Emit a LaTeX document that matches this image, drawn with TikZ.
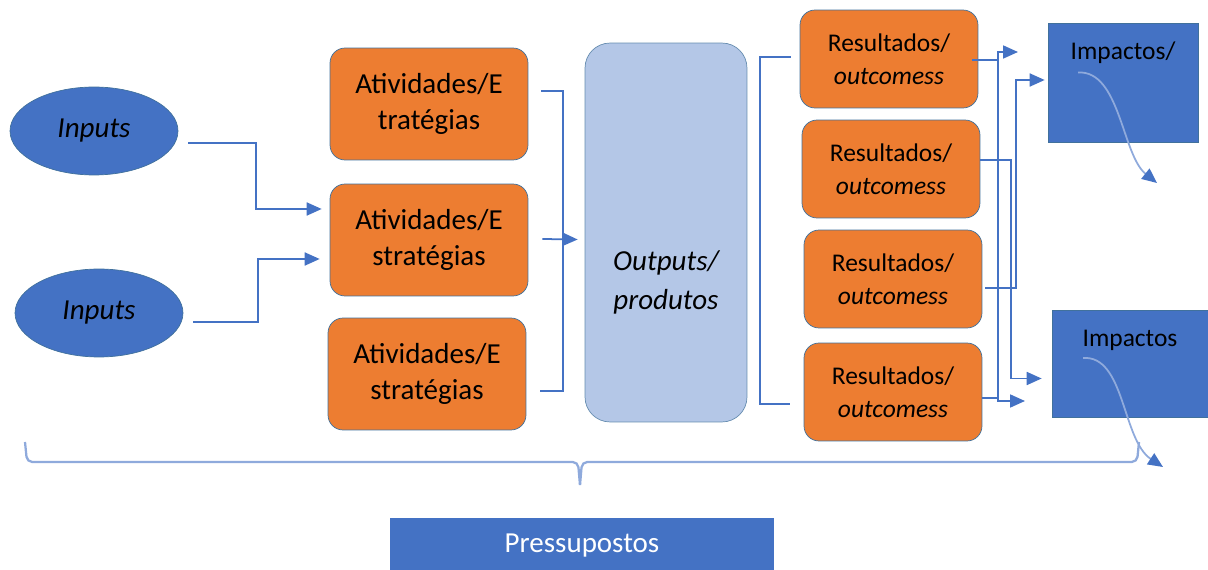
\documentclass[tikz,border=0pt]{standalone}
\usepackage{fontspec}
\setmainfont{Carlito}
\usetikzlibrary{arrows.meta,shapes.geometric}
\definecolor{tocOrange}{HTML}{ED7D31}
\definecolor{tocBlue}{HTML}{4472C4}
\definecolor{tocEdge}{HTML}{41719C}
\definecolor{tocPale}{HTML}{B4C7E7}
\definecolor{tocLine}{HTML}{8FAADC}

\begin{document}
\begin{tikzpicture}[x=0.02cm,y=-0.02cm,>={Triangle[length=8.5pt,width=7.4pt]},
  conn/.style={->,tocBlue,line width=1pt},
  bracket/.style={tocBlue,line width=1pt},
  swoosh/.style={-{Triangle[length=8.5pt,width=7.4pt,color=tocBlue,fill=tocBlue]},tocLine,line width=1pt},
  brace/.style={tocLine,line width=1.3pt,rounded corners=3pt},
  inbox/.style={ellipse,draw=tocEdge,fill=tocBlue,minimum width=3.36cm,minimum height=1.76cm,inner sep=0pt,font=\fontsize{16.5}{20}\selectfont\itshape},
  actbox/.style={rectangle,rounded corners=0.3cm,draw=tocEdge,fill=tocOrange,minimum width=3.96cm,minimum height=2.24cm,align=center,font=\fontsize{16.5}{20}\selectfont},
  resbox/.style={rectangle,rounded corners=0.3cm,draw=tocEdge,fill=tocOrange,minimum width=3.56cm,minimum height=1.96cm,align=center,font=\fontsize{14.5}{18.8}\selectfont},
  outbox/.style={rectangle,rounded corners=0.5cm,draw=tocEdge!80,fill=tocPale,minimum width=3.24cm,minimum height=7.58cm},
  outtext/.style={align=center,font=\fontsize{16.5}{22}\selectfont\itshape},
  impbox/.style={rectangle,draw=tocEdge,fill=tocBlue},
  imptext/.style={font=\fontsize{14.5}{18}\selectfont},
  pressbox/.style={rectangle,fill=tocBlue,minimum width=7.68cm,minimum height=1.12cm,text=white,font=\fontsize{16.5}{20}\selectfont}]
  \useasboundingbox (0,0) rectangle (1208,570);
  % inputs
  \node[inbox] (in1) at (94,131) {Inputs};
  \node[inbox] (in2) at (99,313) {Inputs};
  % activities
  \node[actbox] (act1) at (429,104) {Atividades/E\\tratégias};
  \node[actbox] (act2) at (429,240) {Atividades/E\\stratégias};
  \node[actbox] (act3) at (427,374) {Atividades/E\\stratégias};
  % outputs
  \node[outbox,label={[outtext,yshift=-1cm]center:{Outputs/\\produtos}}] (out) at (666,232.5) {};
  % results
  \node[resbox] (res1) at (889,59) {Resultados/\\\textit{outcomess}};
  \node[resbox] (res2) at (891,169) {Resultados/\\\textit{outcomess}};
  \node[resbox] (res3) at (893,279) {Resultados/\\\textit{outcomess}};
  \node[resbox] (res4) at (893,392) {Resultados/\\\textit{outcomess}};
  % impacts
  \node[impbox,minimum width=3cm,minimum height=2.38cm,label={[imptext,yshift=0.59cm]center:Impactos/}] (imp1) at (1123,82.5) {};
  \node[impbox,minimum width=3.12cm,minimum height=2.14cm,label={[imptext,yshift=0.46cm]center:Impactos}] (imp2) at (1130,363.5) {};
  % assumptions
  \node[pressbox] (press) at (582,546) {Pressupostos};
  % inputs -> activities
  \draw[conn] ([shift={(10,12)}]in1.east) -- ++(68,0) |- ([shift={(-8,-31)}]act2.west);
  \draw[conn] ([shift={(10,9)}]in2.east) -- ++(65,0) |- ([shift={(-10,19)}]act2.west);
  % activities -> outputs
  \draw[bracket] ([shift={(13,-13)}]act1.east) -- ++(22,0) |- ([shift={(14,17)}]act3.east);
  \draw[conn] ([shift={(14,-1)}]act2.east) -- ([shift={(-7,7)}]out.west);
  % outputs -> results
  \draw[bracket] ([shift={(-9,-2)}]res1.west) -- ++(-31,0) |- ([shift={(-14,12)}]res4.west);
  % results -> impacts
  \coordinate (tipA) at (1025,401);
  \coordinate (tipB) at (1018,52);
  \draw[conn] ([shift={(-6,1)}]res1.east) -- ++(26,0) |- (tipA);
  \draw[conn] ([shift={(0,6)}]res4.east) -- ++(16,0) |- (tipB);
  \draw[conn] ([shift={(0,-9)}]res2.east) -- ++(31,0) |- ([shift={(-10,15)}]imp2.west);
  \draw[conn] ([shift={(3,9)}]res3.east) -- ++(31,0) |- ([shift={(-3,-2.5)}]imp1.west);
  % swooshes through the impact boxes
  \coordinate (swA) at (1157,183);
  \coordinate (swB) at (1163,467);
  \draw[swoosh] ([shift={(-45,-10)}]imp1.center) .. controls (1120,70) and (1122,155) .. (swA);
  \draw[swoosh] ([shift={(-47,-5.5)}]imp2.center) .. controls (1125,355) and (1122,440) .. (swB);
  % brace over the whole chain
  \draw[brace] (25,442) -- (27,462) -- (578,462) -- (580,485);
  \draw[brace] (580,485) -- (582,462) -- (1137,462) -- (1139,442);
\end{tikzpicture}
\end{document}
